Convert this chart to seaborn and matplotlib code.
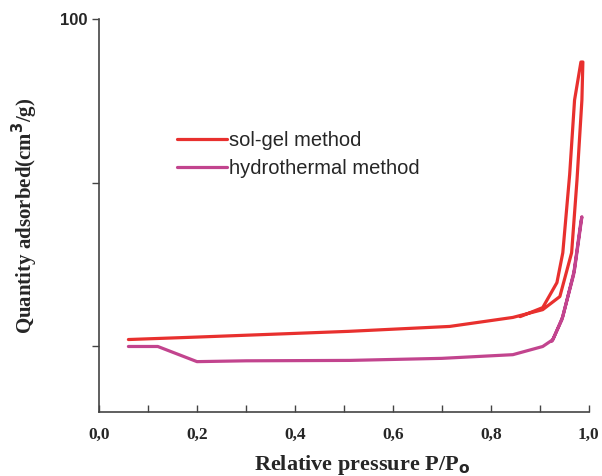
import matplotlib
matplotlib.use("Agg")
import matplotlib.pyplot as plt
import pandas as pd
import seaborn as sns

#-------------------------------------------------------------------------------------------------------------------------#

# DATA (adsorption branch then desorption branch)

solgel_p = [0.06, 0.2, 0.4, 0.51, 0.716, 0.845, 0.906, 0.941, 0.965, 0.976, 0.986, 0.988,
            0.984, 0.971, 0.961, 0.947, 0.935, 0.906, 0.86]
solgel_q = [21.7, 22.3, 23.2, 23.7, 24.9, 27.1, 29.0, 32.2, 42.9, 60.7, 80.2, 89.5,
            89.5, 80.2, 62.0, 42.9, 35.6, 29.5, 27.3]

hydro_p = [0.06, 0.12, 0.2, 0.3, 0.512, 0.7, 0.845, 0.906, 0.927, 0.947, 0.971, 0.986,
           0.984, 0.969, 0.945, 0.925]
hydro_q = [20.0, 20.0, 16.3, 16.5, 16.6, 17.1, 18.0, 20.0, 21.7, 27.3, 38.8, 51.7,
           50.5, 37.5, 26.5, 21.3]

x_ticks = [0.0, 0.2, 0.4, 0.6, 0.8, 1.0]
x_labels = ["0,0", "0,2", "0,4", "0,6", "0,8", "1,0"]
y_ticks = [20, 60, 100]
y_labels = ["", "", "100"]

#-------------------------------------------------------------------------------------------------------------------------#

sns.set_style("ticks")

fig = plt.figure(figsize=(6.02, 4.76), dpi=100)
ax = fig.add_axes([0.1645, 0.1345, 0.8135, 0.8255])

palette = {"sol-gel method": "#e8302e", "hydrothermal method": "#c2448e"}

# each isotherm is one path: adsorption up, desorption back down
for name, xs, ys in [("sol-gel method", solgel_p, solgel_q),
                     ("hydrothermal method", hydro_p, hydro_q)]:
    sub = pd.DataFrame({"p": xs, "q": ys})
    sns.lineplot(data=sub, x="p", y="q", sort=False, estimator=None,
                 color=palette[name], linewidth=2.3, ax=ax, label=name)

ax.set_xlim(0, 1.0)
ax.set_ylim(4, 100)
ax.set_xticks(x_ticks)
ax.set_xticklabels(x_labels, fontfamily="Liberation Serif", fontweight="bold", fontsize=12.5)
ax.set_xticks([0.1, 0.3, 0.5, 0.7, 0.9], minor=True)
ax.set_yticks(y_ticks)
ax.set_yticklabels(y_labels, fontfamily="Liberation Sans", fontweight="bold", fontsize=12)

ax.tick_params(axis="x", which="both", direction="in", length=5, width=1, color="#444444", pad=11)
ax.tick_params(axis="y", direction="out", length=5, width=1, color="#444444")

for side in ["top", "right"]:
    ax.spines[side].set_visible(False)
for side in ["left", "bottom"]:
    ax.spines[side].set_color("#444444")
    ax.spines[side].set_linewidth(1.2)

ax.set_xlabel("Relative pressure P/P$_\\mathbf{o}$", fontfamily="Liberation Serif",
              fontweight="bold", fontsize=16)
ax.xaxis.set_label_coords(0.538, -0.105)
ax.set_ylabel("Quantity adsorbed(cm$^\\mathbf{3}$/g)", fontfamily="Liberation Serif",
              fontweight="bold", fontsize=15, labelpad=14)

leg = ax.legend(loc="upper left", bbox_to_anchor=(0.122, 0.76), frameon=False,
                prop={"family": "Liberation Sans", "size": 14.5},
                handlelength=2.5, handletextpad=0.1, labelspacing=0.42)

fig.savefig("out.png", dpi=100)
